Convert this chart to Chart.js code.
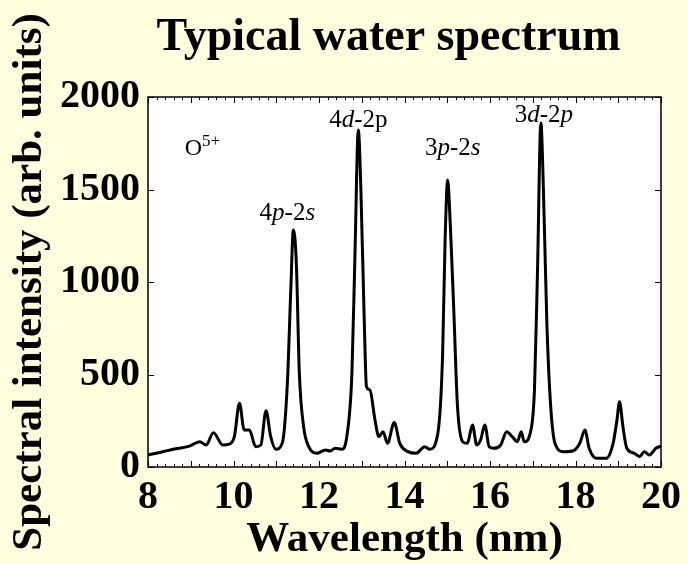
<!DOCTYPE html>
<html lang="en">
<head>
<meta charset="UTF-8">
<title>Typical water spectrum</title>
<script src="https://cdn.jsdelivr.net/npm/chart.js"></script>
<style>
  body { margin: 0; background: #ffffe0; }
  #wrap { width: 688px; height: 564px; }
</style>
</head>
<body>
<div id="wrap"><canvas id="spectrum" width="688" height="564"></canvas></div>
<script>
// spectrum (nm, arb. units)
const wavelength = [8.00, 8.30, 8.59, 8.97, 9.21, 9.36, 9.53, 9.75, 9.90, 10.02, 10.14, 10.25, 10.37, 10.52, 10.64, 10.76, 10.87, 10.99,
  11.14, 11.26, 11.34, 11.40, 11.47, 11.54, 11.64, 11.76, 11.95, 12.15, 12.26, 12.38, 12.53, 12.65, 12.77, 12.84, 12.92, 12.98,
  13.06, 13.11, 13.19, 13.31, 13.40, 13.50, 13.60, 13.76, 13.89, 14.08, 14.27, 14.47, 14.59, 14.78, 14.89, 14.95, 15.01, 15.07,
  15.15, 15.24, 15.36, 15.47, 15.59, 15.69, 15.78, 15.88, 15.98, 16.09, 16.25, 16.39, 16.52, 16.64, 16.73, 16.80, 16.94, 17.04,
  17.11, 17.19, 17.25, 17.33, 17.42, 17.52, 17.72, 17.95, 18.10, 18.22, 18.32, 18.49, 18.72, 18.88, 18.97, 19.03, 19.11, 19.20,
  19.38, 19.50, 19.61, 19.73, 19.88, 20.00];
const intensity = [65, 80, 96, 113, 137, 119, 185, 119, 124, 164, 344, 200, 200, 110, 119, 304, 164, 96,
  128, 452, 957, 1281, 1101, 508, 218, 110, 74, 92, 87, 101, 96, 164, 506, 1137, 1822, 1497,
  777, 434, 416, 254, 164, 191, 128, 240, 128, 83, 74, 110, 96, 182, 596, 1227, 1551, 1317,
  866, 326, 137, 128, 227, 119, 146, 227, 110, 101, 119, 191, 164, 137, 191, 137, 182, 416,
  1047, 1860, 1497, 777, 326, 128, 83, 88, 128, 200, 101, 47, 47, 128, 254, 353, 218, 101,
  74, 56, 83, 65, 101, 113];

const xTicks = [8, 10, 12, 14, 16, 18, 20];
const yTicks = [0, 500, 1000, 1500, 2000];

const chartTitle = 'Typical water spectrum';
const xTitle = 'Wavelength (nm)';
const yTitle = 'Spectral intensity (arb. units)';

// line labels, *...* = italic
const peakLabels = ['4*p*-2*s*', '4*d*-2p', '3*p*-2*s*', '3*d*-2*p*'];
const peakLabelAt = [[11.26, 1335], [12.92, 1838], [15.13, 1686], [17.26, 1865]];
const ionLabel = ['O', '5+'];
const ionLabelAt = [8.86, 1686];

const SERIF = "'Liberation Serif', 'Times New Roman', serif";

function drawMixed(ctx, text, cx, by, size) {
  const parts = text.split('*');
  const fontFor = i => (i % 2 ? 'italic ' : '') + size + 'px ' + SERIF;
  let w = 0;
  parts.forEach((p, i) => { ctx.font = fontFor(i); w += ctx.measureText(p).width; });
  let x = cx - w / 2;
  parts.forEach((p, i) => {
    ctx.font = fontFor(i);
    ctx.fillText(p, x, by);
    x += ctx.measureText(p).width;
  });
}

const framePlugin = {
  id: 'frame',
  beforeDraw(chart) {
    const { ctx, chartArea: a } = chart;
    ctx.save();
    ctx.fillStyle = '#ffffe0';
    ctx.fillRect(0, 0, chart.width, chart.height);
    ctx.fillStyle = '#fff';
    ctx.fillRect(a.left, a.top, a.right - a.left, a.bottom - a.top);
    ctx.restore();
  },
  afterDraw(chart) {
    const { ctx, chartArea: a, scales: { x, y } } = chart;
    ctx.save();
    ctx.strokeStyle = '#000';
    ctx.lineWidth = 1;
    ctx.beginPath();
    // inward ticks, minor every 0.2 nm
    for (let k = 0; k <= 60; k++) {
      const v = 8 + k * 0.2;
      const px = Math.round(x.getPixelForValue(v)) + 0.5;
      const len = k % 5 === 0 ? 6 : 3;
      ctx.moveTo(px, a.bottom); ctx.lineTo(px, a.bottom - len);
      ctx.moveTo(px, a.top); ctx.lineTo(px, a.top + len);
    }
    yTicks.forEach(v => {
      const py = Math.round(y.getPixelForValue(v)) + 0.5;
      ctx.moveTo(a.left, py); ctx.lineTo(a.left + 6, py);
      ctx.moveTo(a.right, py); ctx.lineTo(a.right - 6, py);
    });
    ctx.stroke();
    ctx.lineWidth = 1.5;
    ctx.strokeRect(a.left, a.top, a.right - a.left, a.bottom - a.top);

    // annotations
    ctx.fillStyle = '#000';
    ctx.textAlign = 'left';
    ctx.textBaseline = 'alphabetic';
    peakLabels.forEach((t, i) => {
      drawMixed(ctx, t, x.getPixelForValue(peakLabelAt[i][0]), y.getPixelForValue(peakLabelAt[i][1]), 25);
    });
    const ox = x.getPixelForValue(ionLabelAt[0]);
    const oy = y.getPixelForValue(ionLabelAt[1]);
    ctx.font = '24px ' + SERIF;
    ctx.fillText(ionLabel[0], ox, oy);
    const ow = ctx.measureText(ionLabel[0]).width;
    ctx.font = '17px ' + SERIF;
    ctx.fillText(ionLabel[1], ox + ow, oy - 9);

    // title
    ctx.font = 'bold 46px ' + SERIF;
    ctx.textAlign = 'center';
    ctx.fillText(chartTitle, (a.left + a.right) / 2 - 16, 50);
    ctx.restore();
  }
};

const tickFont = { family: SERIF, size: 40, weight: 'bold' };
const titleFont = { family: SERIF, size: 43, weight: 'bold' };

new Chart(document.getElementById('spectrum'), {
  type: 'line',
  data: {
    datasets: [{
      data: wavelength.map((w, i) => ({ x: w, y: intensity[i] })),
      borderColor: '#000',
      borderWidth: 3,
      pointRadius: 0,
      fill: false,
      cubicInterpolationMode: 'monotone'
    }]
  },
  options: {
    responsive: false,
    animation: false,
    layout: { padding: { top: 97, right: 23, left: 0, bottom: 0 } },
    plugins: { legend: { display: false }, tooltip: { enabled: false }, title: { display: false } },
    scales: {
      x: {
        type: 'linear', min: 8, max: 20,
        afterBuildTicks: s => { s.ticks = xTicks.map(v => ({ value: v })); },
        afterFit: s => { s.height = 97; },
        grid: { display: false, drawTicks: false },
        border: { display: false },
        ticks: { font: tickFont, color: '#000', padding: 7, maxRotation: 0, autoSkip: false, callback: v => String(v) },
        title: { display: true, text: xTitle, font: titleFont, color: '#000', padding: { top: 0, bottom: -2 } }
      },
      y: {
        min: 0, max: 2000,
        afterBuildTicks: s => { s.ticks = yTicks.map(v => ({ value: v })); },
        afterFit: s => { s.width = 148; },
        grid: { display: false, drawTicks: false },
        border: { display: false },
        ticks: { font: tickFont, color: '#000', padding: 8, autoSkip: false, callback: v => String(v) },
        title: { display: true, text: yTitle, font: titleFont, color: '#000', padding: { top: 4, bottom: 0 } }
      }
    }
  },
  plugins: [framePlugin]
});
</script>
</body>
</html>
